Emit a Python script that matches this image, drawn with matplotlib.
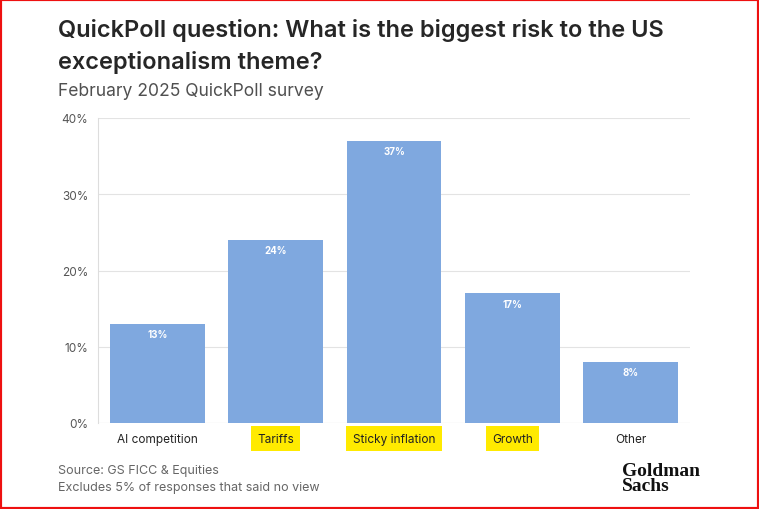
import matplotlib.pyplot as plt
from matplotlib.patches import Rectangle

categories = ['AI competition', 'Tariffs', 'Sticky inflation', 'Growth', 'Other']
shares = [13, 24, 37, 17, 8]
highlighted = ['Tariffs', 'Sticky inflation', 'Growth']
yticks = [0, 10, 20, 30, 40]

plt.rcParams['font.family'] = ['Inter', 'DejaVu Sans']

fig = plt.figure(figsize=(7.59, 5.1), dpi=100)
ax = fig.add_axes([98 / 759, 1 - 424 / 510, 592 / 759, 305 / 510])

x = range(len(categories))
bars = ax.bar(x, shares, width=0.8, color='#7fa8df', zorder=2)
for b, v in zip(bars, shares):
    ax.text(b.get_x() + b.get_width() / 2, v - 0.7, f'{v}%', ha='center', va='top',
            color='white', fontsize=7, fontweight='bold', zorder=3)

ax.set_xlim(-0.5, len(categories) - 0.5)
ax.set_ylim(0, 40)
ax.set_yticks(yticks)
ax.set_yticklabels([f'{t}%' for t in yticks], fontsize=8.5, color='#555555')
ax.grid(axis='y', color='#e3e3e3', linewidth=0.8, zorder=0)
ax.set_xticks(list(x))
ax.set_xticklabels(categories, fontsize=8.5, color='#222222')
for lbl in ax.get_xticklabels():
    if lbl.get_text() in highlighted:
        lbl.set_bbox(dict(facecolor='#ffea00', edgecolor='none', pad=4.5))
ax.tick_params(axis='both', length=0, pad=7)
for s in ['top', 'right', 'bottom']:
    ax.spines[s].set_visible(False)
ax.spines['left'].set_color('#dddddd')
ax.axhline(0, color='#dddddd', linewidth=0.8, zorder=1)

fig.text(58 / 759, 1 - 19 / 510, 'QuickPoll question: What is the biggest risk to the US\nexceptionalism theme?',
         fontsize=17, fontweight='semibold', color='#262626', va='top', linespacing=1.5)
fig.text(58 / 759, 1 - 91 / 510, 'February 2025 QuickPoll survey', fontsize=12.6, color='#505050', va='center')

fig.text(58 / 759, 1 - 471 / 510, 'Source: GS FICC & Equities', fontsize=9, color='#666666', va='center')
fig.text(58 / 759, 1 - 488 / 510, 'Excludes 5% of responses that said no view', fontsize=9, color='#666666', va='center')
fig.text(622 / 759, 1 - 479 / 510, 'Goldman\nSachs', fontsize=14, fontweight='bold', family='Liberation Serif',
         color='#111111', va='center', linespacing=0.85)

fig.patches.append(Rectangle((0, 0), 1, 1, transform=fig.transFigure, fill=False,
                             edgecolor='#ee1111', linewidth=3))

fig.savefig('out.png', dpi=100)
